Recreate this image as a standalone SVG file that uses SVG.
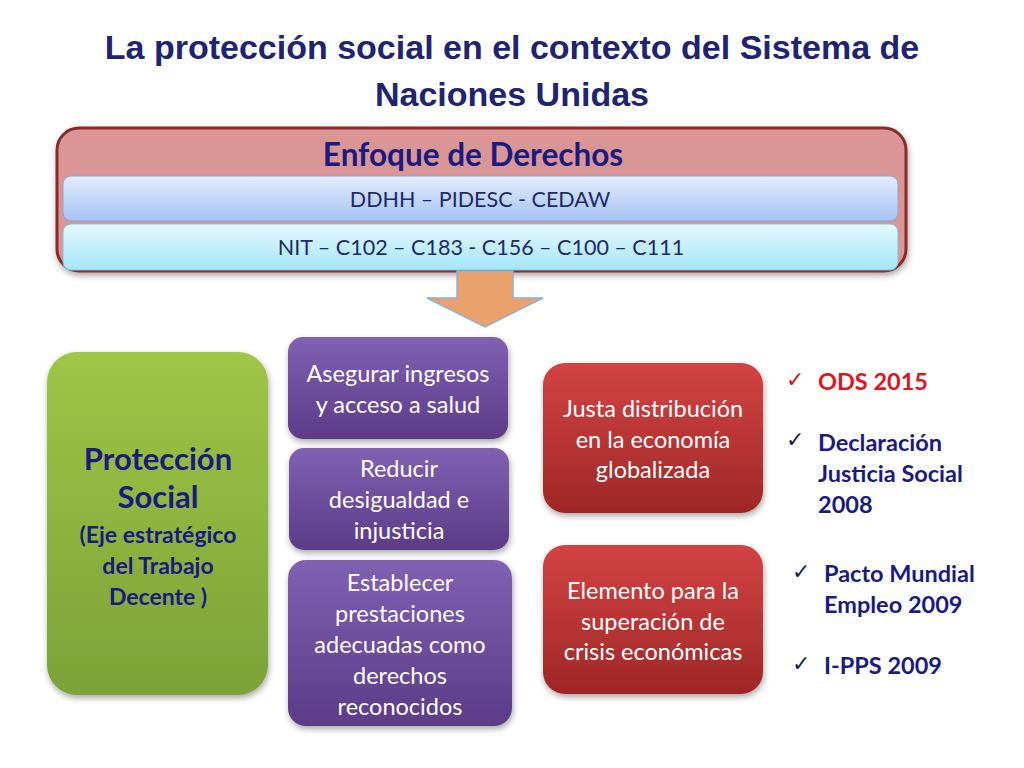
<svg xmlns="http://www.w3.org/2000/svg" width="1024" height="768" viewBox="0 0 1024 768">
<defs>
<linearGradient id="gBlue" x1="0" y1="0" x2="0" y2="1"><stop offset="0" stop-color="#e2ecfc"/><stop offset="1" stop-color="#a6c2f4"/></linearGradient>
<linearGradient id="gCyan" x1="0" y1="0" x2="0" y2="1"><stop offset="0" stop-color="#e4f8fe"/><stop offset="1" stop-color="#a4e6fa"/></linearGradient>
<linearGradient id="gGreen" x1="0" y1="0" x2="0" y2="1"><stop offset="0" stop-color="#9fc645"/><stop offset="1" stop-color="#7ba238"/></linearGradient>
<linearGradient id="gPurple" x1="0" y1="0" x2="0" y2="1"><stop offset="0" stop-color="#8160b2"/><stop offset="1" stop-color="#5c3b88"/></linearGradient>
<linearGradient id="gRed" x1="0" y1="0" x2="0" y2="1"><stop offset="0" stop-color="#d44343"/><stop offset="1" stop-color="#9e2727"/></linearGradient>
<filter id="sh" x="-10%" y="-10%" width="125%" height="130%"><feDropShadow dx="1" dy="3" stdDeviation="3" flood-color="#000" flood-opacity="0.35"/></filter>
</defs>
<style>
.title{font-family:"Liberation Sans",Arial,sans-serif;font-weight:bold;font-size:34px;fill:#1f2370;text-anchor:middle}
.body{font-family:Lato,"Open Sans",sans-serif;text-anchor:middle}
.w{fill:#ffffff;font-size:23.5px}
.nav{fill:#1a1a80}
.bar{fill:#1c2a6c;font-size:21.5px}
.lst{font-family:Lato,"Open Sans",sans-serif;font-weight:bold;font-size:23.5px;fill:#1a1a80}
.chk{font-family:"DejaVu Sans",sans-serif;font-size:22px;fill:#1a1a50}
</style>
<rect width="1024" height="768" fill="#ffffff"/>
<g id="title">
<text class="title" x="512" y="59">La protección social en el contexto del Sistema de</text>
<text class="title" x="512" y="106">Naciones Unidas</text>
</g>
<g id="enfoque">
<rect x="57" y="128" width="849" height="143" rx="22" fill="#d99695" stroke="#8a2c2c" stroke-width="3" filter="url(#sh)"/>
<text class="body nav" x="473" y="166" font-size="31.5" font-weight="bold">Enfoque de Derechos</text>
</g>
<g id="ddhh">
<rect x="63" y="176" width="835" height="45" rx="8" fill="url(#gBlue)" stroke="#8aa6d6" stroke-width="1"/>
<text class="body bar" x="480" y="207">DDHH – PIDESC - CEDAW</text>
</g>
<g id="nit">
<rect x="63" y="224" width="835" height="46" rx="8" fill="url(#gCyan)" stroke="#86bfd6" stroke-width="1"/>
<text class="body bar" x="481" y="255">NIT – C102 – C183 - C156 – C100 – C111</text>
</g>
<g id="connectors">
<path d="M457,271 L513,271 L513,298 L543,298 L485,327 L427,298 L457,298 Z" fill="#eba16c" stroke="#8fb0d8" stroke-width="1.5"/>
</g>
<g id="proteccion">
<rect x="47" y="352" width="221" height="343" rx="30" fill="url(#gGreen)" filter="url(#sh)"/>
<text class="body nav" x="158" y="470" font-size="31" font-weight="bold">Protección</text>
<text class="body nav" x="158" y="508" font-size="31" font-weight="bold">Social</text>
<text class="body nav" x="158" y="543" font-size="23" font-weight="bold">(Eje estratégico</text>
<text class="body nav" x="158" y="574" font-size="23" font-weight="bold">del Trabajo</text>
<text class="body nav" x="158" y="605" font-size="23" font-weight="bold">Decente )</text>
</g>
<g id="asegurar">
<rect x="288" y="337" width="220" height="102" rx="15" fill="url(#gPurple)" filter="url(#sh)"/>
<text class="body w" x="398" y="382">Asegurar ingresos</text>
<text class="body w" x="398" y="413">y acceso a salud</text>
</g>
<g id="reducir">
<rect x="289" y="448" width="220" height="102" rx="15" fill="url(#gPurple)" filter="url(#sh)"/>
<text class="body w" x="399" y="477">Reducir</text>
<text class="body w" x="399" y="508">desigualdad e</text>
<text class="body w" x="399" y="539">injusticia</text>
</g>
<g id="establecer">
<rect x="288" y="560" width="224" height="166" rx="18" fill="url(#gPurple)" filter="url(#sh)"/>
<text class="body w" x="400" y="591">Establecer</text>
<text class="body w" x="400" y="622">prestaciones</text>
<text class="body w" x="400" y="653">adecuadas como</text>
<text class="body w" x="400" y="684">derechos</text>
<text class="body w" x="400" y="715">reconocidos</text>
</g>
<g id="justa">
<rect x="543" y="363" width="220" height="150" rx="22" fill="url(#gRed)" filter="url(#sh)"/>
<text class="body w" x="653" y="417">Justa distribución</text>
<text class="body w" x="653" y="448">en la economía</text>
<text class="body w" x="653" y="478">globalizada</text>
</g>
<g id="elemento">
<rect x="543" y="545" width="220" height="149" rx="22" fill="url(#gRed)" filter="url(#sh)"/>
<text class="body w" x="653" y="599">Elemento para la</text>
<text class="body w" x="653" y="630">superación de</text>
<text class="body w" x="653" y="660">crisis económicas</text>
</g>
<g id="lista">
<text class="chk" x="786" y="387" style="fill:#d01018">✓</text>
<text class="lst" x="818" y="390" style="fill:#e0141c">ODS 2015</text>
<text class="chk" x="786" y="447">✓</text>
<text class="lst" x="818" y="451">Declaración</text>
<text class="lst" x="818" y="482">Justicia Social</text>
<text class="lst" x="818" y="513">2008</text>
<text class="chk" x="792" y="579">✓</text>
<text class="lst" x="824" y="582">Pacto Mundial</text>
<text class="lst" x="824" y="613">Empleo 2009</text>
<text class="chk" x="792" y="671">✓</text>
<text class="lst" x="824" y="674">I-PPS 2009</text>
</g>
</svg>
